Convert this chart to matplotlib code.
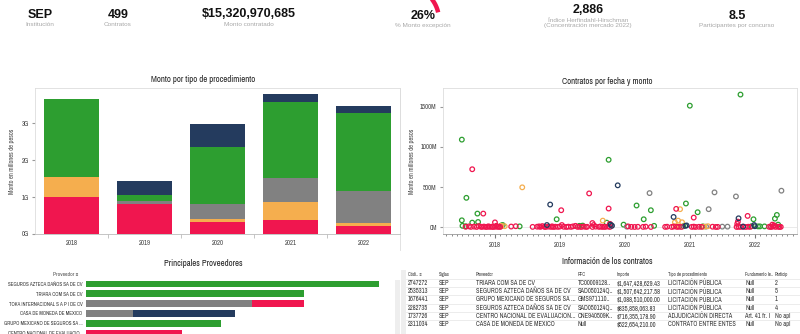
import numpy as np
import matplotlib
matplotlib.use("Agg")
import matplotlib.pyplot as plt
from matplotlib import font_manager

# --- fonts: prefer a condensed face for the dashboard texts ---
cond = sorted({f.name for f in font_manager.fontManager.ttflist
               if f.stretch in ('condensed', 'semi-condensed', 'extra-condensed')
               or 'Narrow' in f.name or 'Condensed' in f.name})
WIDE = ['Liberation Sans', 'DejaVu Sans']
if cond:
    NARROW = [cond[0], 'DejaVu Sans']
    plt.rcParams['font.stretch'] = 'condensed'
    K = 1.0
else:
    NARROW = ['Liberation Sans', 'DejaVu Sans']
    K = 0.82
plt.rcParams['font.family'] = NARROW

# --- colours ---
RED = '#f0164f'
ORANGE = '#f5ae4e'
GRAY = '#818181'
GREEN = '#2d9e30'
NAVY = '#243b5e'

# --- KPI header ---
kpi_values = ['SEP', '499', '$15,320,970,685', '26%', '2,886', '8.5']
kpi_labels = ['Institución', 'Contratos', 'Monto contratado', '% Monto excepción',
              'Índice Herfindahl-Hirschman\n(Concentración mercado 2022)',
              'Participantes por concurso']

# --- amount by procedure type (billions of pesos) ---
years = ['2018', '2019', '2020', '2021', '2022']
proc_types = ['ADJUDICACIÓN DIRECTA', 'INVITACIÓN A CUANDO MENOS TRES',
              'CONTRATO ENTRE ENTES', 'LICITACIÓN PÚBLICA', 'OTRO']
proc_colors = [RED, ORANGE, GRAY, GREEN, NAVY]
monto_adj = [1.01, 0.80, 0.315, 0.38, 0.225]
monto_inv = [0.54, 0.00, 0.09, 0.475, 0.075]
monto_ent = [0.00, 0.09, 0.415, 0.655, 0.85]
monto_lic = [2.10, 0.16, 1.53, 2.07, 2.13]
monto_otr = [0.00, 0.39, 0.63, 0.195, 0.18]

# --- contracts by date and amount (decimal year, millions of pesos) ---
pts_green = [(2017.49, 1092), (2017.56, 365), (2017.49, 84), (2017.73, 168), (2017.65, 55),
             (2017.74, 63), (2017.5, 15), (2017.55, 10), (2018.1, 20), (2018.12, 25),
             (2018.38, 8), (2018.95, 97), (2019.3, 15), (2019.35, 18), (2019.72, 55),
             (2019.75, 840), (2019.98, 30), (2020.18, 269), (2020.29, 97), (2020.40, 210),
             (2020.45, 15), (2020.94, 294), (2021.0, 1516), (2021.12, 185), (2020.9, 10),
             (2021.2, 8), (2021.78, 1655), (2021.98, 97), (2021.95, 10), (2022.05, 8),
             (2022.08, 8), (2022.15, 8), (2022.31, 105), (2022.34, 151), (2022.36, 30)]
pts_gray = [(2020.38, 424), (2021.29, 223), (2021.38, 433), (2021.71, 382), (2022.41, 454),
            (2019.8, 20), (2020.03, 5), (2021.25, 5), (2021.5, 5), (2021.58, 5),
            (2022.25, 5), (2018.1, 10)]
pts_orange = [(2018.42, 496), (2019.66, 80), (2020.85, 223), (2020.77, 60), (2020.88, 60),
              (2018.1, 15), (2018.15, 10), (2020.78, 10), (2021.22, 5), (2021.28, 10),
              (2022.3, 15), (2020.82, 80)]
pts_red = [(2017.65, 722), (2017.82, 168), (2018.0, 58), (2019.02, 210), (2019.45, 420),
           (2019.75, 231), (2019.5, 50), (2019.52, 25), (2020.79, 227), (2021.06, 118),
           (2021.89, 139), (2021.74, 68), (2021.73, 40), (2022.27, 30), (2022.3, 20),
           (2019.77, 40),
           (2017.55, 3), (2017.6, 8), (2017.63, 2), (2017.68, 5), (2017.72, 1), (2017.75, 12),
           (2017.78, 4), (2017.8, 2), (2017.83, 6), (2017.86, 1), (2017.88, 3), (2017.9, 9),
           (2017.92, 2), (2017.95, 4), (2017.97, 1), (2018.0, 3), (2018.02, 15), (2018.04, 2),
           (2018.06, 5), (2018.08, 1), (2018.25, 6), (2018.32, 10), (2018.58, 2), (2018.65, 4),
           (2018.68, 8), (2018.7, 2), (2018.73, 12), (2018.76, 3), (2018.78, 1), (2018.82, 5),
           (2018.86, 2), (2018.88, 9), (2018.9, 1), (2018.93, 4), (2018.97, 2), (2019.0, 6),
           (2019.03, 25), (2019.06, 3), (2019.1, 1), (2019.13, 5), (2019.17, 2), (2019.2, 8),
           (2019.24, 15), (2019.27, 2), (2019.3, 4), (2019.33, 1), (2019.37, 6), (2019.4, 2),
           (2019.42, 3), (2019.5, 1), (2019.55, 5), (2019.6, 2), (2019.62, 7), (2019.65, 1),
           (2019.68, 3), (2019.7, 2), (2019.74, 6), (2019.77, 1), (2020.05, 8), (2020.1, 2),
           (2020.15, 1), (2020.2, 3), (2020.28, 2), (2020.32, 5), (2020.4, 1), (2020.62, 2),
           (2020.65, 4), (2020.72, 1), (2020.75, 6), (2020.8, 2), (2020.83, 3), (2020.87, 1),
           (2021.03, 2), (2021.06, 5), (2021.09, 1), (2021.14, 3), (2021.18, 2), (2021.35, 4),
           (2021.4, 1), (2021.43, 2), (2021.72, 1), (2021.75, 3), (2021.78, 2), (2021.82, 5),
           (2021.86, 1), (2021.9, 4), (2021.93, 2), (2022.22, 3), (2022.25, 1), (2022.28, 6),
           (2022.32, 2), (2022.36, 4), (2022.38, 1), (2022.4, 2)]
pts_navy = [(2018.85, 281), (2019.89, 521), (2020.75, 126), (2021.75, 109), (2018.8, 25),
            (2019.78, 30), (2019.8, 15), (2020.93, 15), (2020.95, 20), (2021.82, 5),
            (2021.99, 25), (2022.0, 10)]

# --- main suppliers (billions of pesos) ---
proveedores = ['SEGUROS AZTECA DAÑOS SA DE CV', 'TRIARA COM SA DE CV',
               'TOKA INTERNACIONAL S A P I DE CV', 'CASA DE MONEDA DE MEXICO',
               'GRUPO MEXICANO DE SEGUROS SA ...', 'CENTRO NACIONAL DE EVALUACIO...']
prov_adj = [0.0, 0.0, 0.47, 0.0, 0.0, 0.875]
prov_ent = [0.0, 0.0, 1.51, 0.43, 0.0, 0.0]
prov_lic = [2.66, 1.98, 0.0, 0.0, 1.23, 0.0]
prov_otr = [0.0, 0.0, 0.0, 0.92, 0.0, 0.0]

# --- contracts table ---
tbl_header = ['Códi.. ≡', 'Siglas', 'Proveedor', 'RFC', 'Importe',
              'Tipo de procedimiento', 'Fundamento le..', 'Particip']
tbl_rows = [
    ['2747272', 'SEP', 'TRIARA COM SA DE CV', 'TC00009128..', '$1,647,428,629.43', 'LICITACIÓN PÚBLICA', 'Null', '2'],
    ['2535313', 'SEP', 'SEGUROS AZTECA DAÑOS SA DE CV', 'SAD050124Q..', '$1,507,642,217.58', 'LICITACIÓN PÚBLICA', 'Null', '5'],
    ['1676441', 'SEP', 'GRUPO MEXICANO DE SEGUROS SA ...', 'GMS971110..', '$1,088,510,000.00', 'LICITACIÓN PÚBLICA', 'Null', '1'],
    ['2282735', 'SEP', 'SEGUROS AZTECA DAÑOS SA DE CV', 'SAD050124Q..', '$835,858,063.83', 'LICITACIÓN PÚBLICA', 'Null', '4'],
    ['1737726', 'SEP', 'CENTRO NACIONAL DE EVALUACION...', 'CNE940509K..', '$716,355,178.90', 'ADJUDICACIÓN DIRECTA', 'Art. 41 fr. I', 'No apl'],
    ['2311034', 'SEP', 'CASA DE MONEDA DE MEXICO', 'Null', '$522,654,210.00', 'CONTRATO ENTRE ENTES', 'Null', 'No apl'],
]

W, H = 800, 334
fig = plt.figure(figsize=(W / 100, H / 100), dpi=100)


def ax_px(l, t, r, b):
    return fig.add_axes([l / W, 1 - b / H, (r - l) / W, (b - t) / H])


LIGHT = '#dddddd'

# overlay for texts and decorations in pixel coordinates
ov = ax_px(0, 0, W, H)
ov.set_xlim(0, W)
ov.set_ylim(H, 0)
ov.axis('off')
ov.set_zorder(-1)

# header KPIs
kpi_x = [40, 118, 249, 423, 588, 737]
kpi_y = [15, 15, 14, 16, 10, 16]
for x, y, v, lab in zip(kpi_x, kpi_y, kpi_values, kpi_labels):
    ov.text(x, y, v, ha='center', va='center', fontsize=9.0, fontweight='bold',
            family=WIDE, fontstretch='normal', color='#111111')
    ov.text(x, y + 7.5, lab, ha='center', va='top', fontsize=4.6, family=WIDE,
            fontstretch='normal', color='#a8a8a8', linespacing=1.25)

# gauge arc (clipped at the top edge)
th = np.linspace(np.radians(13), np.radians(60), 30)
ov.plot(405 + 34 * np.cos(th), 20 - 34 * np.sin(th), color=RED, lw=3.2,
        solid_capstyle='butt')

# panel titles
title_kw = dict(ha='center', va='center', fontsize=6.3 * K, fontweight='bold', color='#222222')
ov.text(203, 80, 'Monto por tipo de procedimiento', **title_kw)
ov.text(607, 81, 'Contratos por fecha y monto', **title_kw)
ov.text(203, 264, 'Principales Proveedores', **title_kw)
ov.text(607, 262, 'Información de los contratos', **title_kw)
ov.text(66, 275, 'Proveedor ≡', ha='center', va='center', fontsize=4.0 * K, color='#555555')

# --- stacked bar chart ---
ax1 = ax_px(35, 88, 400, 234)
xs = np.arange(len(years))
stack = [monto_adj, monto_inv, monto_ent, monto_lic, monto_otr]
bottom = np.zeros(len(years))
for vals, col, name in zip(stack, proc_colors, proc_types):
    ax1.bar(xs, vals, bottom=bottom, width=0.75, color=col, label=name, linewidth=0)
    bottom += np.array(vals)
ax1.set_xlim(-0.5, 4.5)
ax1.set_ylim(0, 3.95)
ax1.set_xticks(xs)
ax1.set_xticklabels(years)
ax1.set_xticks(xs[:-1] + 0.5, minor=True)
ax1.set_yticks([0, 1, 2, 3])
ax1.set_yticklabels(['0G', '1G', '2G', '3G'])
ax1.tick_params(axis='x', which='major', length=0, labelsize=4.8, colors='#444444', pad=4)
ax1.tick_params(axis='x', which='minor', length=3, color='#bbbbbb')
ax1.tick_params(axis='y', length=2.5, labelsize=4.8, colors='#444444', color='#999999', pad=2)
ax1.set_ylabel('Monto en millones de pesos', fontsize=4.6, color='#444444', labelpad=5)
for s in ['top', 'left', 'right']:
    ax1.spines[s].set_color(LIGHT)
    ax1.spines[s].set_linewidth(0.6)
ax1.spines['bottom'].set_color('#bbbbbb')
ax1.spines['bottom'].set_linewidth(0.6)

# --- scatter chart ---
ax2 = ax_px(443, 88, 797, 234)
ax2.axhline(0, color='#e6e6e6', lw=0.6, zorder=0)
for pts, col in [(pts_green, GREEN), (pts_gray, GRAY), (pts_orange, ORANGE),
                 (pts_red, RED), (pts_navy, NAVY)]:
    d = [p[0] for p in pts]
    v = [p[1] for p in pts]
    ax2.scatter(d, v, s=11, facecolors='none', edgecolors=col, linewidths=0.9)
ax2.set_xlim(2017.2, 2022.65)
ax2.set_ylim(-87, 1737)
ax2.set_xticks([2018, 2019, 2020, 2021, 2022])
ax2.set_xticklabels(years)
ax2.set_xticks(np.arange(2017.25, 2022.65, 1 / 12), minor=True)
ax2.set_yticks([0, 500, 1000, 1500])
ax2.set_yticklabels(['0M', '500M', '1000M', '1500M'])
ax2.tick_params(axis='x', which='major', length=3, labelsize=4.8, colors='#444444', color='#777777', pad=3)
ax2.tick_params(axis='x', which='minor', length=1.5, color='#777777')
ax2.tick_params(axis='y', length=2.5, labelsize=4.8, colors='#444444', color='#999999', pad=2)
ax2.set_ylabel('Monto en millones de pesos', fontsize=4.6, color='#444444', labelpad=4)
for s in ['top', 'left', 'right']:
    ax2.spines[s].set_color(LIGHT)
    ax2.spines[s].set_linewidth(0.6)
ax2.spines['bottom'].set_color('#999999')
ax2.spines['bottom'].set_linewidth(0.6)

# panel separator line
ov.plot([400, 400], [88, 250], color=LIGHT, lw=0.6)

# --- suppliers ---
ax3 = ax_px(86, 279, 395, 334)
ys = np.arange(len(proveedores))
left = np.zeros(len(proveedores))
for vals, col in [(prov_ent, GRAY), (prov_lic, GREEN), (prov_adj, RED), (prov_otr, NAVY)]:
    ax3.barh(ys, vals, left=left, height=0.68, color=col, linewidth=0)
    left += np.array(vals)
ax3.set_ylim(5.1, -0.5)
ax3.set_xlim(0, 309 / 110)
ax3.set_yticks(ys)
ax3.set_yticklabels(proveedores)
ax3.set_xticks([])
ax3.tick_params(axis='y', length=0, labelsize=3.7 * (0.8 if K < 1 else 1), colors='#333333', pad=2.5)
for s in ax3.spines.values():
    s.set_visible(False)
# scrollbar
ov.add_patch(plt.Rectangle((395, 280), 5, 54, color='#eeeeee', lw=0))

# --- contracts table ---
col_x = [408, 439, 476, 578, 617, 668, 745, 775]
TS = 4.6 if K == 1.0 else 3.7
ov.add_patch(plt.Rectangle((401, 270), 5, 64, color='#eeeeee', lw=0))
for cx, h in zip(col_x, tbl_header):
    ov.text(cx, 274.5, h, ha='left', va='center', fontsize=TS * 0.74, fontweight='bold', color='#333333')
row_y0, row_dy = 282.8, 8.3
for i, row in enumerate(tbl_rows):
    ry = row_y0 + i * row_dy
    ov.plot([406, 800], [ry - row_dy / 2, ry - row_dy / 2], color='#e4e4e4', lw=0.5)
    for cx, cell in zip(col_x, row):
        ov.text(cx, ry, cell, ha='left', va='center', fontsize=TS, color='#333333')

fig.savefig('out.png', dpi=100)
